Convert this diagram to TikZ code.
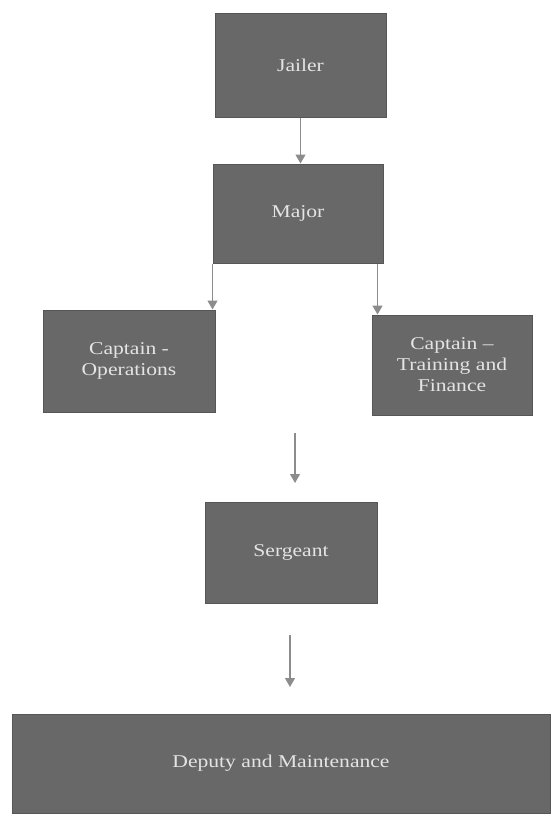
\documentclass[tikz,border=0pt]{standalone}
\usepackage{fontspec}
\setmainfont{Liberation Serif}[FakeStretch=1.2]
\usetikzlibrary{arrows.meta}
\definecolor{boxgray}{HTML}{686868}
\definecolor{boxedge}{HTML}{565656}
\definecolor{txtgray}{HTML}{E4E4E4}
\definecolor{arrgray}{HTML}{8C8C8C}
\tikzset{
  box/.style={draw=boxedge, line width=1pt, fill=boxgray, text=txtgray,
    font=\fontsize{18}{21}\selectfont, align=center, inner sep=0pt},
  conn/.style={draw=arrgray, line width=1.2pt, -{Triangle[width=10pt,length=9pt]}}
}
\begin{document}
\begin{tikzpicture}[x=1pt,y=-1pt]
\useasboundingbox (0,0) rectangle (550,817);
\node[box, minimum width=171pt, minimum height=104pt] (jailer) at (300.5,65) {Jailer};
\node[box, minimum width=170pt, minimum height=99pt] (major) at (298,213.5) {Major};
\node[box, minimum width=172pt, minimum height=102pt] (capops) at (129,361) {Captain -\\Operations};
\node[box, minimum width=160pt, minimum height=100pt] (captf) at (452,365) {Captain –\\Training and\\Finance};
\node[box, minimum width=172pt, minimum height=101pt] (sergeant) at (291,552.5) {Sergeant};
\node[box, minimum width=538pt, minimum height=99pt] (deputy) at (281,763.5) {Deputy and Maintenance};
\coordinate (js) at (jailer.south);
\coordinate (ml) at ([xshift=0pt]major.south west);
\coordinate (mr) at ([xshift=-6pt]major.south east);
\coordinate (a1s) at (295,433);
\coordinate (a1e) at (295,483);
\coordinate (a2s) at (290,635);
\coordinate (a2e) at (290,687);
\draw[conn] (js) -- (js |- major.north);
\draw[conn] (ml) -- (ml |- capops.north);
\draw[conn] (mr) -- (mr |- captf.north);
\draw[conn] (a1s) -- (a1e);
\draw[conn] (a2s) -- (a2e);
\end{tikzpicture}
\end{document}
